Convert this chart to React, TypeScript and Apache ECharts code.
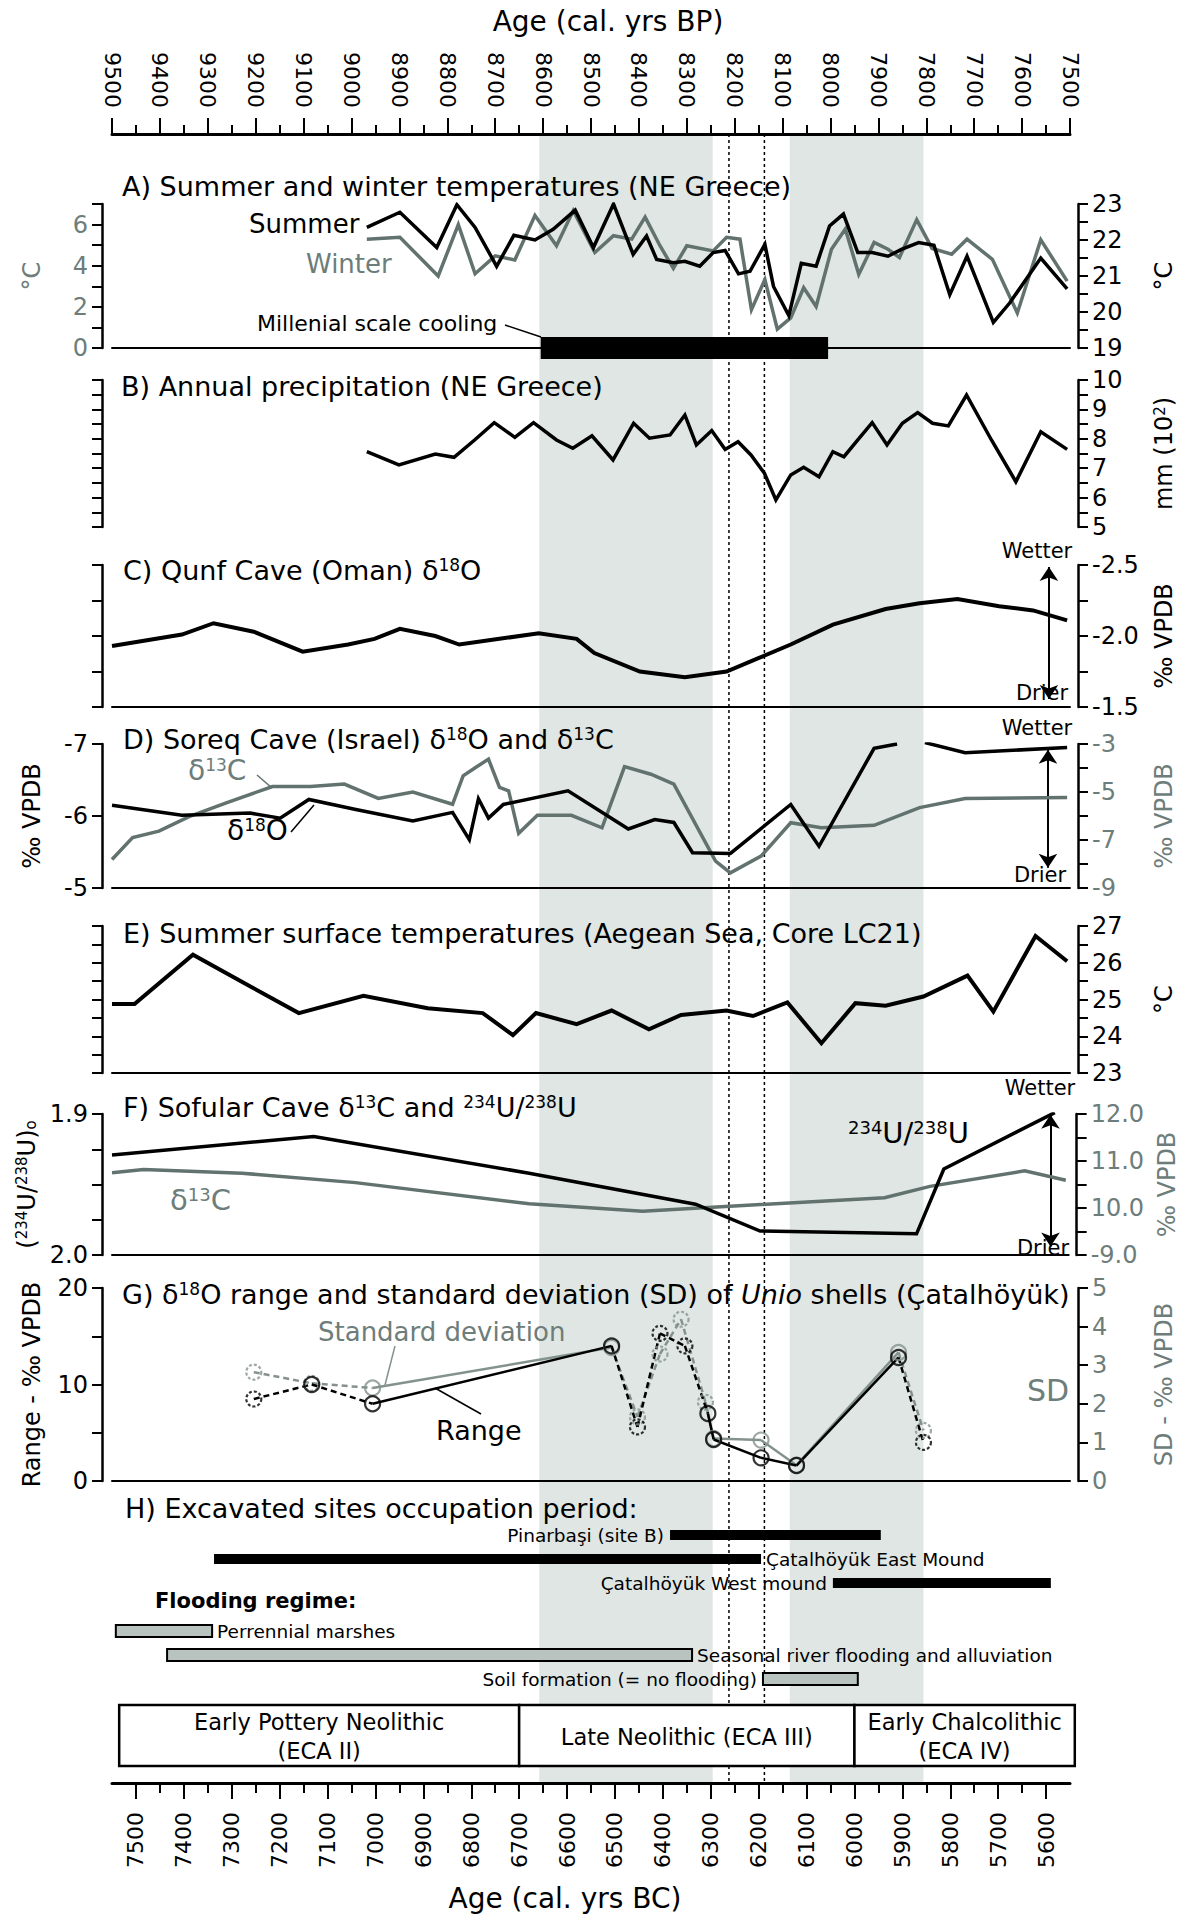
import React, { useEffect, useRef } from 'react';
import * as echarts from 'echarts';

const FONT = 'DejaVu Sans';
const BLACK = '#000000';
const GRAY = '#62726f';
const GRAY_TXT = '#6d7d7a';
const GRAY_LIGHT = '#84928f';
const BAND = '#dfe6e3';
const FLOOD_FILL = '#b9c3c0';

// ---- axes ----
const BP_MIN = 7500;
const BP_MAX = 9500;
const BC_MIN = 5550;
const BC_MAX = 7550;
const bcMajorTicks = [5600, 5700, 5800, 5900, 6000, 6100, 6200, 6300, 6400, 6500, 6600, 6700, 6800, 6900, 7000, 7100, 7200, 7300, 7400, 7500];
const bcMinorTicks = [5650, 5750, 5850, 5950, 6050, 6150, 6250, 6350, 6450, 6550, 6650, 6750, 6850, 6950, 7050, 7150, 7250, 7350, 7450];

// ---- shaded periods and dotted event lines (cal. yrs BP) ----
const shadedStartBP = [8608, 8085];
const shadedEndBP = [8246, 7806];
const dottedBP = [8212, 8138];

// ---- A) Summer / winter temperatures ----
const summerBP = [8968, 8899, 8822, 8780, 8742, 8697, 8661, 8617, 8579, 8533, 8495, 8453, 8412, 8384, 8363, 8328, 8304, 8273, 8245, 8220, 8192, 8168, 8137, 8119, 8087, 8061, 8030, 8002, 7973, 7943, 7913, 7880, 7852, 7816, 7784, 7751, 7715, 7660, 7626, 7561, 7506];
const summerC = [22.35, 22.77, 21.79, 22.98, 22.35, 21.27, 22.13, 22.0, 22.3, 22.83, 21.79, 23.0, 21.6, 22.11, 21.46, 21.37, 21.41, 21.27, 21.65, 21.71, 21.06, 21.13, 21.88, 20.71, 19.9, 21.35, 21.27, 22.39, 22.72, 21.65, 21.65, 21.55, 21.74, 21.93, 21.85, 20.48, 21.55, 19.71, 20.25, 21.5, 20.64];
const winterBP = [8968, 8899, 8819, 8777, 8742, 8700, 8659, 8617, 8572, 8537, 8492, 8453, 8415, 8387, 8356, 8328, 8300, 8245, 8217, 8189, 8165, 8137, 8111, 8083, 8056, 8030, 7998, 7969, 7941, 7909, 7880, 7856, 7820, 7788, 7747, 7715, 7662, 7610, 7561, 7506];
const winterC = [5.29, 5.38, 3.5, 6.0, 3.61, 4.48, 4.28, 6.44, 4.97, 6.68, 4.64, 5.46, 5.29, 6.36, 4.97, 3.87, 4.97, 4.72, 5.38, 5.29, 1.86, 3.33, 0.92, 1.46, 2.93, 2.02, 4.8, 5.78, 3.58, 5.13, 4.8, 4.4, 6.24, 4.84, 4.56, 5.29, 4.31, 1.7, 5.26, 3.25];
const coolingBP = [8605, 8005];
const coolingLevel = [0, 0];

// ---- B) Annual precipitation (10^2 mm) ----
const precipBP = [8968, 8901, 8825, 8786, 8743, 8702, 8659, 8620, 8572, 8538, 8498, 8454, 8411, 8378, 8335, 8304, 8280, 8248, 8220, 8193, 8166, 8138, 8114, 8083, 8056, 8024, 7995, 7972, 7943, 7913, 7882, 7850, 7818, 7787, 7754, 7716, 7664, 7613, 7561, 7506];
const precipMm = [7.56, 7.11, 7.48, 7.37, 7.96, 8.55, 8.05, 8.55, 7.96, 7.68, 8.1, 7.28, 8.53, 8.02, 8.13, 8.81, 7.79, 8.28, 7.64, 7.9, 7.45, 6.83, 5.92, 6.77, 7.03, 6.71, 7.56, 7.39, 7.96, 8.55, 7.79, 8.53, 8.89, 8.53, 8.44, 9.49, 7.96, 6.54, 8.24, 7.64];

// ---- C) Qunf Cave d18O ----
const qunfBP = [9500, 9354, 9288, 9204, 9102, 9007, 8952, 8899, 8825, 8775, 8691, 8609, 8530, 8493, 8398, 8304, 8217, 8153, 8083, 7995, 7885, 7814, 7735, 7648, 7577, 7506];
const qunfD18O = [-1.93, -2.01, -2.09, -2.03, -1.89, -1.94, -1.98, -2.05, -2.0, -1.94, -1.98, -2.02, -1.98, -1.88, -1.75, -1.71, -1.75, -1.84, -1.94, -2.08, -2.19, -2.23, -2.26, -2.21, -2.18, -2.11];

// ---- D) Soreq Cave ----
const soreqO_BP = [9500, 9354, 9212, 9149, 9089, 8991, 8872, 8789, 8754, 8735, 8714, 8683, 8548, 8422, 8367, 8327, 8288, 8209, 8083, 8024, 7909, 7861, 7832, 7803, 7719, 7506];
const soreqD18O = [-6.15, -6.01, -6.04, -5.97, -6.23, -6.09, -5.93, -6.05, -5.67, -6.24, -5.97, -6.16, -6.35, -5.82, -5.95, -5.91, -5.49, -5.48, -6.16, -5.58, -6.94, -7.0, null, -7.02, -6.88, -6.95];
const soreqC_BP = [9500, 9457, 9402, 9339, 9260, 9165, 9086, 9015, 8944, 8872, 8789, 8767, 8741, 8714, 8691, 8672, 8651, 8612, 8541, 8477, 8430, 8375, 8327, 8240, 8209, 8145, 8083, 8019, 7909, 7814, 7719, 7506];
const soreqD13C = [-7.81, -6.9, -6.63, -6.03, -5.44, -4.77, -4.77, -4.67, -5.27, -5.0, -5.51, -4.33, -3.98, -3.63, -4.81, -4.95, -6.72, -5.97, -5.97, -6.49, -3.94, -4.26, -4.67, -7.88, -8.37, -7.67, -6.28, -6.49, -6.39, -5.65, -5.27, -5.23];

// ---- E) Aegean SST (LC21) ----
const sstBP = [9500, 9453, 9331, 9212, 9110, 8975, 8841, 8726, 8663, 8615, 8530, 8457, 8379, 8312, 8217, 8162, 8090, 8019, 7948, 7885, 7806, 7714, 7660, 7572, 7506];
const sstC = [24.88, 24.88, 26.22, 25.36, 24.63, 25.1, 24.76, 24.63, 24.03, 24.63, 24.33, 24.7, 24.19, 24.58, 24.7, 24.55, 24.92, 23.81, 24.9, 24.83, 25.08, 25.65, 24.67, 26.73, 26.04];

// ---- F) Sofular Cave ----
const uBP = [9500, 9078, 8628, 8280, 8145, 7818, 7761, 7529];
const uRatio = [1.929, 1.916, 1.942, 1.964, 1.983, 1.985, 1.939, 1.899];
const sofC_BP = [9500, 9434, 9228, 8991, 8628, 8391, 8153, 7885, 7790, 7592, 7506];
const sofD13C = [-10.75, -10.82, -10.74, -10.54, -10.09, -9.93, -10.07, -10.22, -10.46, -10.79, -10.59];

// ---- G) Unio shells ----
const rangeBP = [9204, 9083, 8956, 8457, 8403, 8356, 8304, 8256, 8244, 8145, 8071, 7858, 7806];
const rangeVals = [8.5, 10.0, 8.0, 14.0, 5.6, 15.3, 14.0, 7.0, 4.3, 2.4, 1.6, 12.8, 4.0];
const sdBP = [9204, 9083, 8956, 8457, 8403, 8356, 8312, 8261, 8244, 8145, 8071, 7858, 7806];
const sdVals = [2.82, 2.53, 2.41, 3.46, 1.66, 3.29, 4.19, 2.04, 1.1, 1.06, 0.41, 3.33, 1.31];
const gDashedSegments = [[0, 1], [1, 2], [3, 4], [4, 5], [5, 6], [6, 7], [11, 12]];
const gSolidSegments = [[2, 3], [7, 8], [8, 9], [9, 10], [10, 11]];
const rangeCircleDashed = [1, 0, 0, 0, 1, 1, 1, 0, 0, 0, 0, 0, 1];
const sdCircleDashed = [1, 1, 0, 0, 1, 1, 1, 1, 0, 0, 0, 0, 1];

// ---- H) Sites & flooding (cal. yrs BC) ----
const hRows = ['title', 'Pinarbasi', 'EastMound', 'WestMound', 'Flooding', 'Marshes', 'Seasonal', 'Soil'];
const hNames = ['Pinarbaşi (site B)', 'Çatalhöyük East Mound', 'Çatalhöyük West mound', 'Perrennial marshes', 'Seasonal river flooding and alluviation', 'Soil formation (= no flooding)'];
const hStartBC = [6385, 7337, 6045, 7542, 7435, 6191];
const hEndBC = [5945, 6195, 5590, 7341, 6339, 5993];
const hRow = [1, 2, 3, 5, 6, 7];
const hKind = ['site', 'site', 'site', 'flood', 'flood', 'flood'];
const hLabelSide = ['left', 'right', 'left', 'right', 'right', 'left'];

// ---- Archaeological periods (cal. yrs BC) ----
const periodNames = ['Early Pottery Neolithic\n(ECA II)', 'Late Neolithic (ECA III)', 'Early Chalcolithic\n(ECA IV)'];
const periodStartBC = [7535, 6700, 6000];
const periodEndBC = [6700, 6000, 5540];

// ---- Wetter/Drier arrows (data coords) ----
const arrowC = [[7544, -2.486], [7544, -1.556]];
const arrowD = [[7546, -6.92], [7546, -5.28]];
const arrowF = [[7538, 1.9005], [7538, 1.994]];

const evenFmt = (v: number) => (Math.round(v) % 2 === 0 ? String(Math.round(v)) : '');
const intFmt = (v: number) => (Math.abs(v - Math.round(v)) < 1e-6 ? String(Math.round(v)) : '');
const halfFmt = (v: number) => (Math.abs(v * 2 - Math.round(v * 2)) < 1e-6 ? v.toFixed(1) : '');
const plainFmt = (v: number) => String(Math.round(v));
const oddFmt = (v: number) => (Math.abs(Math.round(v)) % 2 === 1 ? String(Math.round(v)) : '');
const tenthFmt = (v: number) => (Math.abs(v * 10 - Math.round(v * 10)) < 1e-6 ? v.toFixed(1) : '');
const fRightFmt = (v: number) => (Math.abs(v - Math.round(v)) < 1e-6 ? (Math.round(v) === -9 ? '-9.0' : Math.abs(v).toFixed(1)) : '');
const tenFmt = (v: number) => (Math.round(v) % 10 === 0 ? String(Math.round(v)) : '');

function richFor(size: number, color: string) {
  const small = Math.round(size * 0.62);
  return {
    s: { fontSize: small, fontFamily: FONT, fill: color, color, verticalAlign: 'top' },
    o: { fontSize: small, fontFamily: FONT, fill: color, color, verticalAlign: 'bottom' },
    i: { fontSize: size, fontFamily: FONT, fill: color, color, fontStyle: 'italic' },
  };
}

function buildOption() {
  const grid: any[] = [];
  const xAxis: any[] = [];
  const yAxis: any[] = [];
  const series: any[] = [];
  const graphic: any[] = [];

  const text = (x: number, y: number, t: string, size: number, color = BLACK, align = 'left', weight = 'normal') => {
    graphic.push({
      type: 'text', x, y, z: 50, silent: true,
      style: { text: t, fontSize: size, fontFamily: FONT, fill: color, align, verticalAlign: 'middle', fontWeight: weight, rich: richFor(size, color) },
    });
  };
  const leader = (pts: number[][], color: string, width: number) => {
    graphic.push({ type: 'polyline', z: 50, silent: true, shape: { points: pts }, style: { stroke: color, lineWidth: width, fill: null } });
  };

  // ===== background grid with top (BP) and bottom (BC) axes =====
  grid.push({ left: 112, right: 117, top: 134, height: 1649 });
  xAxis.push({
    type: 'value', gridIndex: 0, position: 'top', min: BP_MIN, max: BP_MAX, interval: 100, inverse: true,
    axisLine: { show: true, onZero: false, lineStyle: { color: BLACK, width: 3 } },
    axisTick: { show: true, length: 16, lineStyle: { color: BLACK, width: 2 } },
    minorTick: { show: true, splitNumber: 2, length: 9, lineStyle: { color: BLACK, width: 2 } },
    axisLabel: { show: true, rotate: 90, margin: 26, fontSize: 22, fontFamily: FONT, color: BLACK, formatter: (v: number) => String(v) },
    splitLine: { show: false }, minorSplitLine: { show: false }, z: 5,
  });
  xAxis.push({
    type: 'value', gridIndex: 0, position: 'bottom', min: BC_MIN, max: BC_MAX, inverse: true,
    axisLine: { show: true, onZero: false, lineStyle: { color: BLACK, width: 3 } },
    axisTick: { show: true, length: 16, customValues: bcMajorTicks, lineStyle: { color: BLACK, width: 2 } },
    axisLabel: { show: true, customValues: bcMajorTicks, rotate: 90, margin: 29, fontSize: 22, fontFamily: FONT, color: BLACK, formatter: (v: number) => String(v) },
    splitLine: { show: false }, z: 5,
  });
  xAxis.push({
    type: 'value', gridIndex: 0, position: 'bottom', min: BC_MIN, max: BC_MAX, inverse: true,
    axisLine: { show: false },
    axisTick: { show: true, length: 10, customValues: bcMinorTicks, lineStyle: { color: BLACK, width: 2 } },
    axisLabel: { show: false }, splitLine: { show: false }, z: 5,
  });
  yAxis.push({ type: 'value', gridIndex: 0, min: 0, max: 1, show: false });

  series.push({
    type: 'custom', xAxisIndex: 0, yAxisIndex: 0, z: 1, silent: true, clip: false,
    data: shadedStartBP.map((s, i) => [s, shadedEndBP[i]]),
    encode: { x: [0, 1] },
    renderItem: (params: any, api: any) => {
      const a = api.coord([api.value(0), 1]);
      const b = api.coord([api.value(1), 0]);
      return { type: 'rect', shape: { x: a[0], y: a[1], width: b[0] - a[0], height: b[1] - a[1] }, style: { fill: BAND } };
    },
  });
  series.push({
    type: 'custom', xAxisIndex: 0, yAxisIndex: 0, z: 2, silent: true, clip: false,
    data: dottedBP.map((v) => [v, 0]),
    encode: { x: 0 },
    renderItem: (params: any, api: any) => {
      const a = api.coord([api.value(0), 1]);
      const b = api.coord([api.value(0), 0]);
      return { type: 'line', shape: { x1: a[0], y1: a[1], x2: b[0], y2: b[1] }, style: { stroke: BLACK, lineWidth: 1.5, lineDash: [3, 3] } };
    },
  });

  // ===== panel helper =====
  const makeY = (g: number, pos: string, s: any) => ({
    type: 'value', gridIndex: g, position: pos, offset: pos === 'left' ? 10 : 8,
    min: s.min, max: s.max, interval: s.interval, inverse: !!s.inverse,
    axisLine: { show: true, onZero: false, lineStyle: { color: BLACK, width: 2.5 } },
    axisTick: { show: true, length: 10, lineStyle: { color: BLACK, width: 2 } },
    axisLabel: { show: !!s.fmt, formatter: s.fmt, margin: 14, fontSize: 24, fontFamily: FONT, color: s.labelColor || BLACK },
    splitLine: { show: false },
    name: s.name || '', nameLocation: 'middle', nameRotate: 90,
    nameGap: s.nameGap != null ? s.nameGap : (pos === 'left' ? 58 : 74),
    nameTextStyle: { fontSize: 24, fontFamily: FONT, color: s.nameColor || BLACK, rich: richFor(24, s.nameColor || BLACK) },
    z: 5,
  });
  const addPanel = (top: number, height: number, showXLine: boolean, left: any, right: any) => {
    const g = grid.length;
    grid.push({ left: 112, right: 117, top, height });
    const xi = xAxis.length;
    xAxis.push({
      type: 'value', gridIndex: g, min: BP_MIN, max: BP_MAX, inverse: true, position: 'bottom',
      axisLine: { show: showXLine, onZero: false, lineStyle: { color: BLACK, width: 2 } },
      axisTick: { show: false }, axisLabel: { show: false }, splitLine: { show: false }, z: 5,
    });
    const li = yAxis.length;
    yAxis.push(makeY(g, 'left', left));
    const ri = yAxis.length;
    yAxis.push(makeY(g, 'right', right));
    return { xi, li, ri };
  };
  const line = (xi: number, yi: number, xs: number[], ys: any[], color: string, width: number, extra: any = {}) => {
    series.push({
      type: 'line', xAxisIndex: xi, yAxisIndex: yi, silent: true, z: 6,
      data: xs.map((x, i) => [x, ys[i] == null ? '-' : ys[i]]),
      showSymbol: false, symbol: 'none', connectNulls: false,
      lineStyle: { color, width, join: 'miter' }, itemStyle: { color },
      ...extra,
    });
  };
  const arrowMark = (pts: number[][]) => ({
    silent: true, animation: false, symbol: ['arrow', 'arrow'], symbolSize: 14,
    label: { show: false }, lineStyle: { color: BLACK, width: 2, type: 'solid' },
    data: [[{ coord: pts[0] }, { coord: pts[1] }]],
  });

  // A
  const A = addPanel(204, 144, true,
    { min: 0, max: 7, interval: 1, fmt: evenFmt, labelColor: GRAY_TXT, name: '°C', nameColor: GRAY_TXT },
    { min: 19, max: 23, interval: 0.5, fmt: intFmt, name: '°C' });
  line(A.xi, A.li, winterBP, winterC, GRAY, 3.5);
  line(A.xi, A.ri, summerBP, summerC, BLACK, 3.5);
  line(A.xi, A.li, coolingBP, coolingLevel, BLACK, 22, { clip: false, lineStyle: { color: BLACK, width: 22, cap: 'butt' } });

  // B
  const B = addPanel(380, 147, false,
    { min: 5, max: 10, interval: 0.5 },
    { min: 5, max: 10, interval: 0.5, fmt: intFmt, name: 'mm (10{s|2})' });
  line(B.xi, B.ri, precipBP, precipMm, BLACK, 3.5);

  // C
  const C = addPanel(565, 142, true,
    { min: -2.5, max: -1.5, interval: 0.25, inverse: true },
    { min: -2.5, max: -1.5, interval: 0.25, inverse: true, fmt: halfFmt, name: '‰ VPDB' });
  line(C.xi, C.ri, qunfBP, qunfD18O, BLACK, 4, { markLine: arrowMark(arrowC) });

  // D
  const D = addPanel(744, 144, true,
    { min: -7, max: -5, interval: 1, inverse: true, fmt: plainFmt, name: '‰ VPDB' },
    { min: -9, max: -3, interval: 1, fmt: oddFmt, labelColor: GRAY_TXT, name: '‰ VPDB', nameColor: GRAY_TXT });
  line(D.xi, D.ri, soreqC_BP, soreqD13C, GRAY, 3.5);
  line(D.xi, D.li, soreqO_BP, soreqD18O, BLACK, 3.5, { markLine: arrowMark(arrowD) });

  // E
  const E = addPanel(926, 147, true,
    { min: 23, max: 27, interval: 0.5 },
    { min: 23, max: 27, interval: 0.5, fmt: intFmt, name: '°C' });
  line(E.xi, E.ri, sstBP, sstC, BLACK, 4);

  // F
  const F = addPanel(1114, 141, true,
    { min: 1.9, max: 2.0, interval: 0.025, inverse: true, fmt: tenthFmt, name: '({s|234}U/{s|238}U){o|o}' },
    { min: -12, max: -9, interval: 0.5, inverse: true, fmt: fRightFmt, labelColor: GRAY_TXT, name: '‰ VPDB', nameColor: GRAY_TXT });
  line(F.xi, F.ri, sofC_BP, sofD13C, GRAY, 3.5);
  line(F.xi, F.li, uBP, uRatio, BLACK, 3.5, { markLine: arrowMark(arrowF) });

  // G
  const G = addPanel(1288, 193, true,
    { min: 0, max: 20, interval: 5, fmt: tenFmt, name: 'Range - ‰ VPDB' },
    { min: 0, max: 5, interval: 1, fmt: plainFmt, labelColor: GRAY_TXT, name: 'SD - ‰ VPDB', nameColor: GRAY_TXT });
  const segLines = (xs: number[], ys: number[], yi: number, color: string) => {
    gSolidSegments.forEach(([a, b]) => line(G.xi, yi, [xs[a], xs[b]], [ys[a], ys[b]], color, 2.5));
    gDashedSegments.forEach(([a, b]) => line(G.xi, yi, [xs[a], xs[b]], [ys[a], ys[b]], color, 2.5, { lineStyle: { color, width: 2.5, type: [6, 4] } }));
  };
  segLines(sdBP, sdVals, G.ri, GRAY_LIGHT);
  segLines(rangeBP, rangeVals, G.li, BLACK);
  const circles = (xs: number[], ys: number[], dashed: number[], yi: number, color: string) => {
    series.push({
      type: 'scatter', xAxisIndex: G.xi, yAxisIndex: yi, silent: true, z: 7, symbol: 'circle', symbolSize: 15,
      data: xs.map((x, i) => ({ value: [x, ys[i]], itemStyle: { color: 'rgba(255,255,255,0)', borderColor: color, borderWidth: 2.2, borderType: dashed[i] ? [3, 2] : 'solid' } })),
    });
  };
  circles(sdBP, sdVals, sdCircleDashed, G.ri, GRAY_LIGHT);
  circles(rangeBP, rangeVals, rangeCircleDashed, G.li, BLACK);

  // ===== H) sites grid =====
  const hg = grid.length;
  grid.push({ left: 112, right: 117, top: 1499, height: 192 });
  const hx = xAxis.length;
  xAxis.push({ type: 'value', gridIndex: hg, min: BC_MIN, max: BC_MAX, inverse: true, show: false });
  const hy = yAxis.length;
  yAxis.push({ type: 'category', gridIndex: hg, data: hRows, inverse: true, show: false });
  series.push({
    type: 'custom', xAxisIndex: hx, yAxisIndex: hy, z: 6, silent: true, clip: false,
    data: hStartBC.map((s, i) => [s, hEndBC[i], hRow[i]]),
    encode: { x: [0, 1], y: 2 },
    renderItem: (params: any, api: any) => {
      const i = params.dataIndex;
      const a = api.coord([api.value(0), api.value(2)]);
      const b = api.coord([api.value(1), api.value(2)]);
      const site = hKind[i] === 'site';
      const h = site ? 10 : 12;
      const left = hLabelSide[i] === 'left';
      return {
        type: 'group',
        children: [
          { type: 'rect', shape: { x: a[0], y: a[1] - h / 2, width: b[0] - a[0], height: h }, style: site ? { fill: BLACK } : { fill: FLOOD_FILL, stroke: BLACK, lineWidth: 2 } },
          { type: 'text', x: left ? a[0] - 6 : b[0] + 5, y: a[1], style: { text: hNames[i], fontSize: 18.5, fontFamily: FONT, fill: BLACK, align: left ? 'right' : 'left', verticalAlign: 'middle' } },
        ],
      };
    },
  });

  // ===== period boxes =====
  const pg = grid.length;
  grid.push({ left: 112, right: 117, top: 1705, height: 61 });
  const px = xAxis.length;
  xAxis.push({ type: 'value', gridIndex: pg, min: BC_MIN, max: BC_MAX, inverse: true, show: false });
  const py = yAxis.length;
  yAxis.push({ type: 'value', gridIndex: pg, min: 0, max: 1, show: false });
  series.push({
    type: 'custom', xAxisIndex: px, yAxisIndex: py, z: 6, silent: true, clip: false,
    data: periodStartBC.map((s, i) => [s, periodEndBC[i]]),
    encode: { x: [0, 1] },
    renderItem: (params: any, api: any) => {
      const i = params.dataIndex;
      const a = api.coord([api.value(0), 1]);
      const b = api.coord([api.value(1), 0]);
      return {
        type: 'group',
        children: [
          { type: 'rect', shape: { x: a[0], y: a[1], width: b[0] - a[0], height: b[1] - a[1] }, style: { fill: '#ffffff', stroke: BLACK, lineWidth: 2.5 } },
          { type: 'text', x: (a[0] + b[0]) / 2, y: (a[1] + b[1]) / 2 + 1, style: { text: periodNames[i], fontSize: 22.5, lineHeight: 29, fontFamily: FONT, fill: BLACK, align: 'center', verticalAlign: 'middle' } },
        ],
      };
    },
  });

  // ===== texts =====
  text(608, 21, 'Age (cal. yrs BP)', 28, BLACK, 'center');
  text(565, 1898, 'Age (cal. yrs BC)', 28, BLACK, 'center');
  text(122, 186, 'A) Summer and winter temperatures (NE Greece)', 27);
  text(121, 386, 'B) Annual precipitation (NE Greece)', 27);
  text(123, 570, 'C) Qunf Cave (Oman) δ{s|18}O', 27);
  text(123, 739, 'D) Soreq Cave (Israel) δ{s|18}O and δ{s|13}C', 27);
  text(123, 933, 'E) Summer surface temperatures (Aegean Sea, Core LC21)', 27);
  text(123, 1107, 'F) Sofular Cave δ{s|13}C and {s|234}U/{s|238}U', 27);
  text(122, 1294, 'G) δ{s|18}O range and standard deviation (SD) of {i|Unio} shells (Çatalhöyük)', 27);
  text(125, 1508, 'H) Excavated sites occupation period:', 27);
  text(155, 1601, 'Flooding regime:', 21, BLACK, 'left', 'bold');

  text(249, 224, 'Summer', 26);
  text(306, 264, 'Winter', 26, GRAY_TXT);
  text(257, 323, 'Millenial scale cooling', 22);
  leader([[505, 325], [541, 337]], BLACK, 1.5);

  text(188, 770, 'δ{s|13}C', 28, GRAY_TXT);
  leader([[257, 775], [272, 788]], GRAY, 1.5);
  text(227, 830, 'δ{s|18}O', 28);
  leader([[291, 832], [314, 805]], BLACK, 1.5);

  text(848, 1133, '{s|234}U/{s|238}U', 29);
  text(170, 1200, 'δ{s|13}C', 29, GRAY_TXT);

  text(318, 1332, 'Standard deviation', 26, GRAY_TXT);
  leader([[395, 1346], [385, 1385]], GRAY_LIGHT, 1.5);
  text(436, 1430, 'Range', 27);
  leader([[435, 1388], [481, 1414]], BLACK, 1.5);
  text(1027, 1390, 'SD', 30, GRAY_TXT);

  text(1037, 551, 'Wetter', 21, BLACK, 'center');
  text(1042, 693, 'Drier', 21, BLACK, 'center');
  text(1037, 728, 'Wetter', 21, BLACK, 'center');
  text(1040, 875, 'Drier', 21, BLACK, 'center');
  text(1040, 1088, 'Wetter', 21, BLACK, 'center');
  text(1043, 1248, 'Drier', 21, BLACK, 'center');

  return {
    animation: false,
    backgroundColor: '#ffffff',
    textStyle: { fontFamily: FONT },
    grid, xAxis, yAxis, series, graphic,
  };
}

export default function App() {
  const ref = useRef<HTMLDivElement>(null);
  useEffect(() => {
    document.body.style.margin = '0';
    const chart = echarts.init(ref.current as HTMLDivElement, null, { renderer: 'svg', width: 1187, height: 1916 });
    chart.setOption(buildOption() as any);
    return () => chart.dispose();
  }, []);
  return <div ref={ref} style={{ width: 1187, height: 1916 }} />;
}
